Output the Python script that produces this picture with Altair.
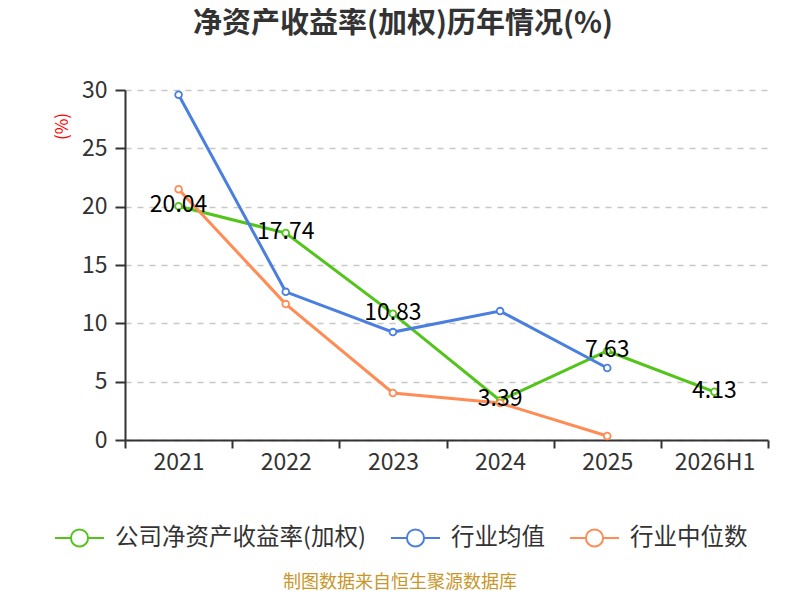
import altair as alt
import pandas as pd

years = ["2021", "2022", "2023", "2024", "2025", "2026H1"]
company = [20.04, 17.74, 10.83, 3.39, 7.63, 4.13]
industry_avg = [29.6, 12.7, 9.25, 11.05, 6.17, None]
industry_median = [21.5, 11.65, 4.03, 3.17, 0.34, None]

series_names = ["公司净资产收益率(加权)", "行业均值", "行业中位数"]
series_colors = ["#52c41a", "#4a7fe0", "#ff8c55"]

title_text = "净资产收益率(加权)历年情况(%)"
footer_text = "制图数据来自恒生聚源数据库"

rows = []
for name, vals in zip(series_names, [company, industry_avg, industry_median]):
    for y, v in zip(years, vals):
        if v is not None:
            rows.append({"year": y, "value": v, "series": name})
df = pd.DataFrame(rows)
df_company = df[df["series"] == series_names[0]]

FONT = "Noto Sans CJK SC"
legend_symbol = ("M-1,0L-0.35,0M0.35,0L1,0M-0.35,0A0.35,0.35,0,1,1,0.35,0"
                 "A0.35,0.35,0,1,1,-0.35,0Z")

x_enc = alt.X("year:N", sort=years,
              scale=alt.Scale(type="band", domain=years, paddingInner=0, paddingOuter=0),
              axis=alt.Axis(title=None, labelAngle=0, tickBand="extent", grid=False,
                            labelFontSize=23, labelColor="#333", labelPadding=3,
                            tickSize=8, tickColor="#333", tickWidth=2,
                            domainColor="#333", domainWidth=2, labelFont=FONT))
y_enc = alt.Y("value:Q", scale=alt.Scale(domain=[0, 30], nice=False),
              axis=alt.Axis(title="(%)", values=[0, 5, 10, 15, 20, 25, 30],
                            titleColor="red", titleFontSize=17, titleFontWeight="normal",
                            titleAngle=270, titleX=-63, titleY=36, titleAlign="center",
                            titleBaseline="middle", titleFont=FONT,
                            labelFontSize=23, labelColor="#333", labelPadding=8,
                            labelFont=FONT,
                            tickSize=10, tickColor="#333", tickWidth=2,
                            domainColor="#333", domainWidth=2,
                            grid=True, gridColor="#c8c8c8", gridDash=[6, 6], gridWidth=1.5))
color_enc = alt.Color("series:N",
                      scale=alt.Scale(domain=series_names, range=series_colors),
                      sort=series_names,
                      legend=alt.Legend(title=None, orient="none", direction="horizontal",
                                        legendX=-71, legendY=422,
                                        symbolType=legend_symbol, symbolSize=2401,
                                        symbolFillColor="white", symbolStrokeWidth=2,
                                        labelFontSize=23.5, labelColor="#333", labelFont=FONT,
                                        labelLimit=0, labelOffset=10, columnPadding=21,
                                        symbolOpacity=1))

base = alt.Chart(df)
lines = base.mark_line(strokeWidth=3).encode(x=x_enc, y=y_enc, color=color_enc)
points = base.mark_point(filled=True, fill="white", size=45, strokeWidth=1.8, opacity=1).encode(
    x=x_enc, y=y_enc, stroke=alt.Stroke("series:N",
                                        scale=alt.Scale(domain=series_names, range=series_colors),
                                        legend=None))
labels = alt.Chart(df_company).mark_text(fontSize=23, color="black", font=FONT,
                                         align="center", baseline="middle", dy=-1).encode(
    x=alt.X("year:N", sort=years), y="value:Q", text=alt.Text("value:Q", format=".2f"))

title = alt.Chart(pd.DataFrame({"t": [title_text]})).mark_text(
    fontSize=29, fontWeight="bold", color="#333", font=FONT,
    align="center", baseline="middle").encode(
    x=alt.value(278), y=alt.value(-66), text="t:N")

footer = alt.Chart(pd.DataFrame({"t": [footer_text]})).mark_text(
    fontSize=18, color="#c9962b", font=FONT, align="center", baseline="middle").encode(
    x=alt.value(275), y=alt.value(493), text="t:N")

chart = alt.layer(lines, points, labels, title, footer).properties(
    width=643, height=350,
    padding={"left": 117, "top": 82, "right": 24, "bottom": 152},
    autosize=alt.AutoSizeParams(type="none"),
).configure_view(stroke=None).configure_axisX(grid=False)

chart.save("out.html", embed_options={"renderer": "svg", "actions": False})
